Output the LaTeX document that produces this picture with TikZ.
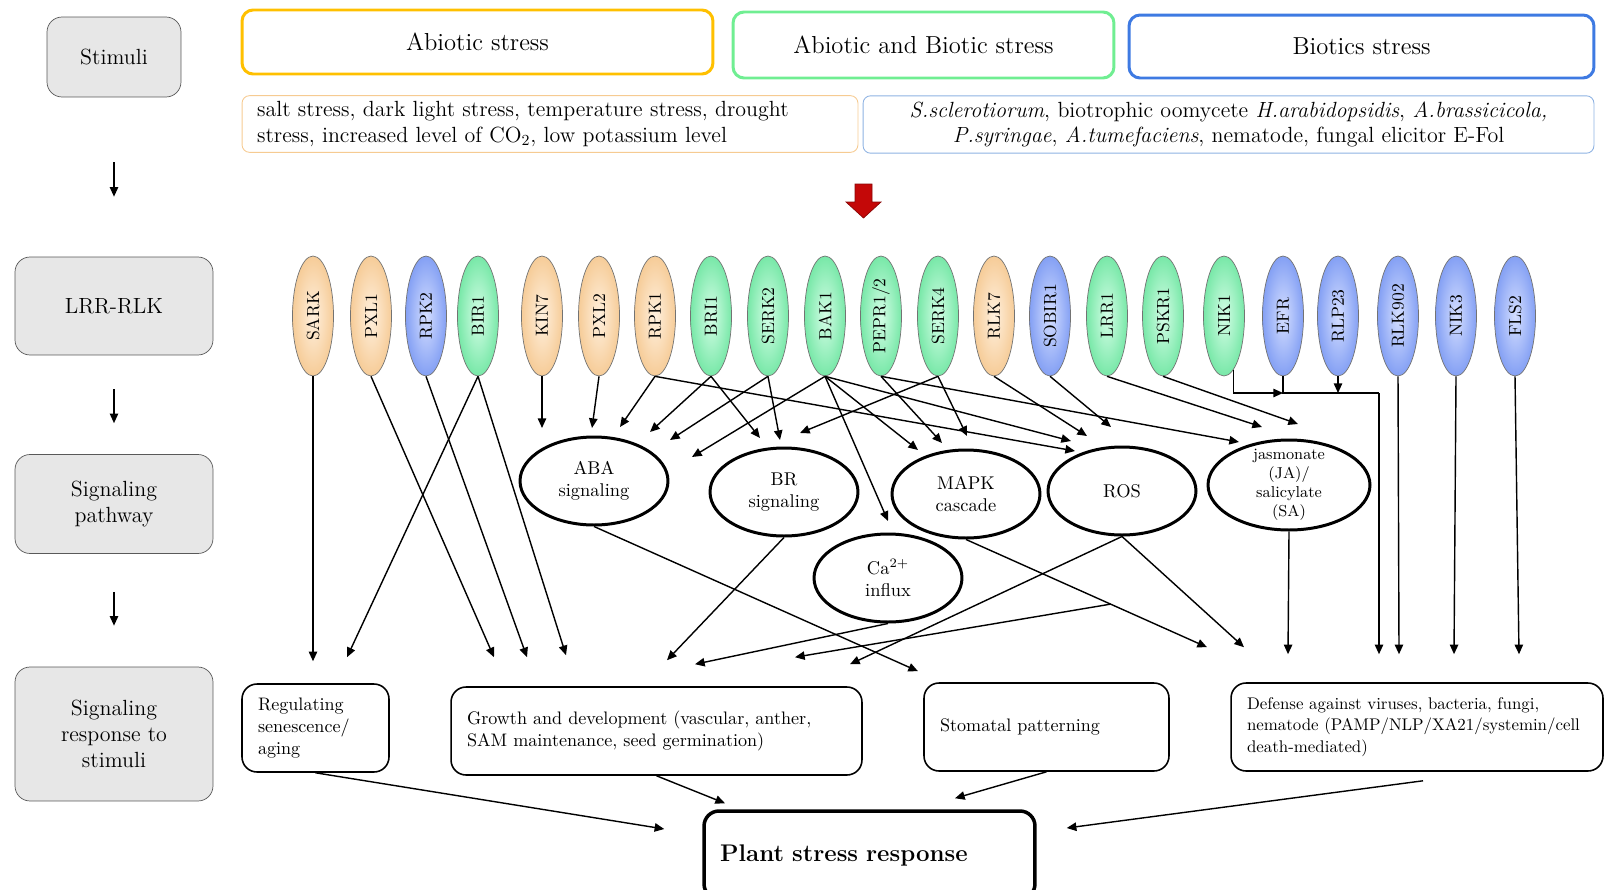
\documentclass[tikz,border=0pt]{standalone}
\usepackage{fontspec}
\usetikzlibrary{shapes.geometric,arrows.meta}

\definecolor{stagegray}{RGB}{231,231,231}
\definecolor{abiogold}{RGB}{255,192,0}
\definecolor{bothgreen}{RGB}{112,238,146}
\definecolor{biotblue}{RGB}{62,122,226}
\definecolor{listorange}{RGB}{246,203,146}
\definecolor{listblue}{RGB}{142,178,226}
\definecolor{rlkorange}{RGB}{246,204,152}
\definecolor{rlkorangelt}{RGB}{255,240,222}
\definecolor{rlkgreen}{RGB}{120,232,168}
\definecolor{rlkgreenlt}{RGB}{212,253,230}
\definecolor{rlkblue}{RGB}{132,160,244}
\definecolor{rlkbluelt}{RGB}{212,222,255}
\definecolor{redarrow}{RGB}{196,8,8}

\begin{document}
\begin{tikzpicture}[x=0.02cm, y=-0.02cm,
  stage/.style={draw=black!65, fill=stagegray, rounded corners=0.3cm, align=center, font=\fontsize{12.5}{15}\selectfont},
  stressbox/.style={line width=1.7pt, rounded corners=0.22cm, font=\fontsize{14}{17}\selectfont},
  listbox/.style={line width=0.5pt, rounded corners=0.15cm, inner xsep=0.3cm, font=\fontsize{12.5}{14.5}\selectfont},
  rlk/.style={ellipse, draw=black!55, line width=0.4pt, minimum width=0.82cm, minimum height=2.4cm, inner sep=0pt, font=\fontsize{10}{11}\selectfont},
  rlko/.style={rlk, inner color=rlkorangelt, outer color=rlkorange},
  rlkg/.style={rlk, inner color=rlkgreenlt, outer color=rlkgreen},
  rlkb/.style={rlk, inner color=rlkbluelt, outer color=rlkblue},
  sig/.style={ellipse, draw, line width=1.7pt, minimum width=2.96cm, minimum height=1.76cm, inner sep=1pt, align=center, font=\fontsize{10.5}{12.3}\selectfont},
  outbox/.style={draw, line width=0.9pt, rounded corners=0.3cm, minimum height=1.76cm, inner xsep=0.32cm, align=left, font=\fontsize{10.3}{12.3}\selectfont},
  arr/.style={line width=0.8pt, -{Triangle[length=5.5pt,width=4.8pt]}}
]
\useasboundingbox (0,0) rectangle (1605,889);

% left column
\node[stage, minimum width=2.68cm, minimum height=1.6cm]  (stim)   at (114,57)  {Stimuli};
\node[stage, minimum width=3.96cm, minimum height=1.96cm] (lrr)    at (114,306) {LRR-RLK};
\node[stage, minimum width=3.96cm, minimum height=1.98cm] (sigpth) at (114,504) {Signaling\\pathway};
\node[stage, minimum width=3.96cm, minimum height=2.68cm] (sigrsp) at (114,734) {Signaling\\response to\\stimuli};

\begin{scope}[arr]
\draw [shorten <=1.3cm, shorten >=1.2cm] (stim) -- (lrr);
\draw [shorten <=0.68cm, shorten >=0.62cm] (lrr) -- (sigpth);
\draw [shorten <=0.76cm, shorten >=0.82cm] (sigpth) -- (sigrsp);
\end{scope}

% stimuli
\node[stressbox, draw=abiogold,  minimum width=9.42cm, minimum height=1.28cm] (abio) at (477.5,42)  {Abiotic stress};
\node[stressbox, draw=bothgreen, minimum width=7.62cm, minimum height=1.32cm] (both) at (923.5,45)  {Abiotic and Biotic stress};
\node[stressbox, draw=biotblue,  minimum width=9.3cm,  minimum height=1.26cm] (biot) at (1361.5,46.5) {Biotics stress};

\node[listbox, draw=listorange, text width=11.72cm, align=left, minimum height=1.08cm] (abiolist) at (550,124)
  {salt stress, dark light stress, temperature stress, drought\\stress, increased level of CO\textsubscript{2}, low potassium level};
\node[listbox, draw=listblue, text width=14.02cm, align=center, minimum height=1.06cm] (biotlist) at (1228.5,124.5)
  {\textit{S.sclerotiorum}, biotrophic oomycete \textit{H.arabidopsidis}, \textit{A.brassicicola,}\\\textit{P.syringae}, \textit{A.tumefaciens}, nematode, fungal elicitor E-Fol};

\filldraw [fill=redarrow, draw=redarrow!70!black, line width=0.4pt]
  (855,184) -- (872,184) -- (872,202) -- (881,202) -- (863.5,218) -- (846,202) -- (855,202) -- cycle;

% LRR-RLK receptors
\node[rlko] (SARK)   at (313,316)  {\rotatebox{90}{SARK}};
\node[rlko] (PXL1)   at (371,316)  {\rotatebox{90}{PXL1}};
\node[rlkb] (RPK2)   at (426,316)  {\rotatebox{90}{RPK2}};
\node[rlkg] (BIR1)   at (478,316)  {\rotatebox{90}{BIR1}};
\node[rlko] (KIN7)   at (542,316)  {\rotatebox{90}{KIN7}};
\node[rlko] (PXL2)   at (599,316)  {\rotatebox{90}{PXL2}};
\node[rlko] (RPK1)   at (655,316)  {\rotatebox{90}{RPK1}};
\node[rlkg] (BRI1)   at (711,316)  {\rotatebox{90}{BRI1}};
\node[rlkg] (SERK2)  at (768,316)  {\rotatebox{90}{SERK2}};
\node[rlkg] (BAK1)   at (825,316)  {\rotatebox{90}{BAK1}};
\node[rlkg] (PEPR)   at (881,316)  {\rotatebox{90}{PEPR1/2}};
\node[rlkg] (SERK4)  at (938,316)  {\rotatebox{90}{SERK4}};
\node[rlko] (RLK7)   at (994,316)  {\rotatebox{90}{RLK7}};
\node[rlkb] (SOBIR1) at (1050,316) {\rotatebox{90}{SOBIR1}};
\node[rlkg] (LRR1)   at (1107,316) {\rotatebox{90}{LRR1}};
\node[rlkg] (PSKR1)  at (1163,316) {\rotatebox{90}{PSKR1}};
\node[rlkg] (NIK1)   at (1224,316) {\rotatebox{90}{NIK1}};
\node[rlkb] (EFR)    at (1283,316) {\rotatebox{90}{EFR}};
\node[rlkb] (RLP23)  at (1338,316) {\rotatebox{90}{RLP23}};
\node[rlkb] (RLK902) at (1398,316) {\rotatebox{90}{RLK902}};
\node[rlkb] (NIK3)   at (1456,316) {\rotatebox{90}{NIK3}};
\node[rlkb] (FLS2)   at (1515,316) {\rotatebox{90}{FLS2}};

% signaling pathways
\node[sig] (ABA)  at (594,481)  {ABA\\signaling};
\node[sig] (BR)   at (784,492)  {BR\\signaling};
\node[sig] (MAPK) at (966,494)  {MAPK\\cascade};
\node[sig] (ROS)  at (1122,491) {ROS};
\node[sig] (Ca)   at (888,578)  {Ca\textsuperscript{2+}\\influx};
\node[sig, minimum width=3.24cm, minimum height=1.8cm, inner xsep=0pt, inner ysep=-5pt, font=\fontsize{9}{10.8}\selectfont] (JA) at (1289,485)
  {jasmonate\\(JA)/\\salicylate\\(SA)};

% responses
\node[outbox, text width=2.3cm]  (reg)     at (315.5,728) {Regulating\\senescence/\\aging};
\node[outbox, text width=7.58cm] (growth)  at (656.5,731) {Growth and development (vascular, anther,\\SAM maintenance, seed germination)};
\node[outbox, text width=4.26cm] (stoma)   at (1046.5,727) {Stomatal patterning};
\node[outbox, text width=6.8cm, font=\fontsize{9.6}{12.3}\selectfont] (defense) at (1417,727)
  {Defense against viruses, bacteria, fungi,\\nematode (PAMP/NLP/XA21/systemin/cell\\death-mediated)};
\node[outbox, line width=2pt, text width=5.98cm, font=\bfseries\fontsize{13.7}{16}\selectfont] (plant) at (869.5,855) {Plant stress response};

\begin{scope}[arr]
\draw (KIN7.south)  -- ([shift={(-52,-53)}]ABA.center); %kin7-aba
\draw (PXL2.south)  -- ([shift={(-2,-53)}]ABA.center); %pxl2-aba
\draw (RPK1.south)  -- ([shift={(26,-54)}]ABA.center); %rpk1-aba
\draw (BRI1.south)  -- ([shift={(56,-49)}]ABA.center); %bri1-aba
\draw (SERK2.south) -- ([shift={(76,-41)}]ABA.center); %serk2-aba
\draw (BAK1.south)  -- ([shift={(98,-24)}]ABA.center); %bak1-aba
\draw (BRI1.south)  -- ([shift={(-24,-54)}]BR.center); %bri1-br
\draw (SERK2.south) -- ([shift={(-4,-52)}]BR.center); %serk2-br
\draw (SERK4.south) -- ([shift={(16,-59)}]BR.center); %serk4-br
\draw (BAK1.south)  -- ([shift={(-48,-44)}]MAPK.center); %bak1-mapk
\draw (PEPR.south)  -- ([shift={(-24,-51)}]MAPK.center); %pepr-mapk
\draw (SERK4.south) -- ([shift={(1,-58)}]MAPK.center); %serk4-mapk
\draw (BAK1.south)  -- ([shift={(0,-57)}]Ca.center); %bak1-ca
\draw (BAK1.south)  -- ([shift={(-51,-50)}]ROS.center); %bak1-ros
\draw (RPK1.south)  -- ([shift={(-47,-40)}]ROS.center); %rpk1-ros
\draw (RLK7.south)  -- ([shift={(-35,-55)}]ROS.center); %rlk7-ros
\draw (SOBIR1.south) -- ([shift={(-11,-64)}]ROS.center); %sobir1-ros
\draw (PEPR.south)  -- ([shift={(-50,-43)}]JA.center); %pepr-ja
\draw (LRR1.south)  -- ([shift={(-27,-58)}]JA.center); %lrr1-ja
\draw (PSKR1.south) -- ([shift={(9,-61)}]JA.center); %pskr1-ja
\end{scope}

% NIK1 / EFR / RLP23 joined line
\coordinate (bus) at (1379,393);
\draw [arr] (NIK1.-80) |- (EFR.south |- bus);
\draw [line width=0.8pt] (EFR.south) -- (EFR.south |- bus) -- (bus);
\draw [arr] (RLP23.south) -- (RLP23.south |- bus);

\begin{scope}[arr]
\draw (SARK.south)  -- ([shift={(-2.5,-22)}]reg.north); %sark-reg
\draw (BIR1.south)  -- ([shift={(31.5,-26)}]reg.north); %bir1-reg
\draw (PXL1.south)  -- ([shift={(-162.5,-29)}]growth.north); %pxl1-growth
\draw (RPK2.south)  -- ([shift={(-129.5,-29)}]growth.north); %rpk2-growth
\draw (BIR1.south)  -- ([shift={(-90.5,-31)}]growth.north); %bir1-growth
\draw (BR.south)    -- ([shift={(10.5,-26)}]growth.north); %br-growth
\draw (Ca.south)    -- ([shift={(38.5,-22)}]growth.north); %ca-growth
\draw (ROS.south)   -- ([shift={(193.5,-22)}]growth.north); %ros-growth
\draw (ABA.south)   -- ([shift={(-128.5,-11)}]stoma.north); %aba-stoma
\draw (MAPK.south)  -- coordinate[pos=0.6] (mkbr) ([shift={(-210,-35)}]defense.north); %mapk-defense
\draw (mkbr)        -- ([shift={(138.5,-29)}]growth.north); %mapk-growth
\draw (ROS.south)   -- ([shift={(-173,-35)}]defense.north); %ros-defense
\draw (JA.south)    -- ([shift={(-129,-28)}]defense.north); %ja-defense
\draw (bus)         -- ([shift={(-38,-28)}]defense.north); %nik1-defense
\draw (RLK902.south) -- ([shift={(-18,-28)}]defense.north); %rlk902-defense
\draw (NIK3.south)  -- ([shift={(37,-28)}]defense.north); %nik3-defense
\draw (FLS2.south)  -- ([shift={(102,-28)}]defense.north); %fls2-defense
\end{scope}

\begin{scope}[arr]
\draw (reg.south)    -- ([shift={(-38,-26)}]plant.west);
\draw (growth.south) -- ([shift={(-144.5,-6)}]plant.north);
\draw (stoma.south)  -- ([shift={(85.5,-11)}]plant.north);
\draw ([shift={(6,9)}]defense.south) -- ([shift={(30,-27)}]plant.east);
\end{scope}

\end{tikzpicture}
\end{document}
